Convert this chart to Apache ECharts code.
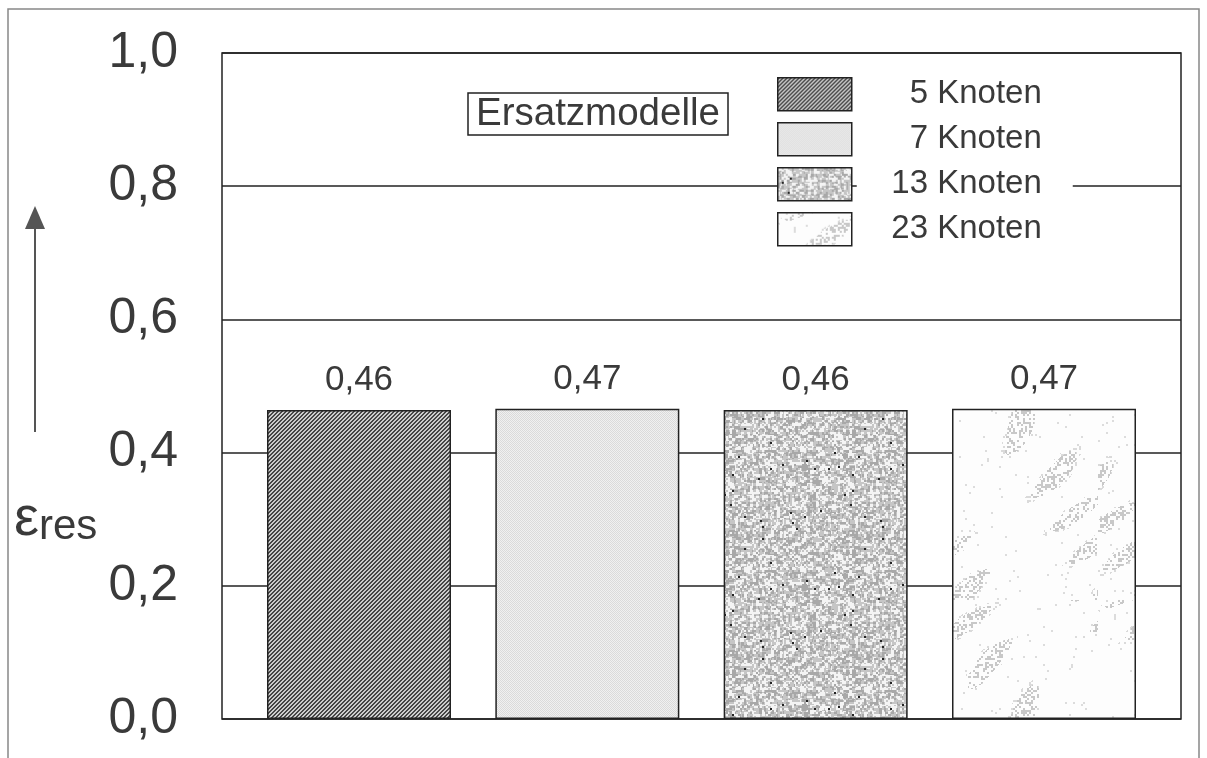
<!DOCTYPE html>
<html>
<head>
<meta charset="utf-8">
<script src="https://cdn.jsdelivr.net/npm/echarts@6/dist/echarts.min.js"></script>
<style>
html,body{margin:0;padding:0;background:#fff;}
#chart{width:1207px;height:758px;}
</style>
</head>
<body>
<div id="chart"></div>
<script>
// ---- data ----
const categories = ['5 Knoten', '7 Knoten', '13 Knoten', '23 Knoten'];
const positions = [1, 2, 3, 4];
const values = [0.464, 0.466, 0.464, 0.466];
const yTicks = [0, 0.2, 0.4, 0.6, 0.8, 1.0];
const boxTitle = 'Ersatzmodelle';
const axisName = ['ε', 'res'];

// ---- texture helpers (styling only, deterministic) ----
function hash(x, y, s) {
  let h = (x * 374761393 + y * 668265263 + s * 2147483647) | 0;
  h = (h ^ (h >>> 13)) * 1274126177 | 0;
  h = h ^ (h >>> 16);
  return ((h >>> 0) % 10000) / 10000;
}
function makeCanvas(w, h, fn) {
  const c = document.createElement('canvas');
  c.width = w; c.height = h;
  const ctx = c.getContext('2d');
  const img = ctx.createImageData(w, h);
  for (let y = 0; y < h; y++) for (let x = 0; x < w; x++) {
    const v = fn(x, y);
    const i = (y * w + x) * 4;
    img.data[i] = v; img.data[i + 1] = v; img.data[i + 2] = v; img.data[i + 3] = 255;
  }
  ctx.putImageData(img, 0, 0);
  return c;
}
const patHatch = makeCanvas(8, 8, (x, y) => ((x + y) % 4 < 2 ? 70 : 205));
const patDots = makeCanvas(8, 8, (x, y) => ((x + y) % 2 === 0 ? 218 : 240));
const patNoise = makeCanvas(120, 120, (x, y) => {
  const bx = Math.floor(x / 3), by = Math.floor(y / 3);
  const r = (hash(bx, by, 3) + hash(Math.floor(x / 2), Math.floor(y / 2), 4)) / 2;
  if (hash(x >> 1, y >> 1, 9) > 0.993) return 35;
  if (r < 0.36) return 168;
  if (r < 0.6) return 198;
  return 244;
});
const patSparse = makeCanvas(183, 300, (x, y) => {
  const band = Math.sin((x + y) / 11 + Math.sin(y / 37) * 2) +
               0.8 * Math.sin((x * 0.7 - y * 0.4) / 17);
  const r = hash(Math.floor(x / 2), Math.floor(y / 2), 5);
  if (band > 1.1 && r < 0.38) return 200;
  if (band > 0.8 && r < 0.12) return 218;
  if (r < 0.01) return 220;
  return 253;
});
const patterns = [patHatch, patDots, patNoise, patSparse];

const txt = '#3a3a3a';
const font = '"Liberation Sans", Arial, Helvetica, sans-serif';

const series = categories.map((name, i) => ({
  name: name,
  type: 'bar',
  barWidth: 184,
  barGap: '-100%',
  data: [[positions[i], values[i]]],
  itemStyle: {
    color: { image: patterns[i], repeat: 'repeat' },
    borderColor: '#222',
    borderWidth: 1.5
  },
  label: {
    show: true,
    position: 'top',
    distance: 12,
    fontFamily: font,
    fontSize: 35,
    color: txt,
    formatter: p => p.value[1].toFixed(2).replace('.', ',')
  },
  emphasis: { disabled: true },
  silent: true
}));

const chart = echarts.init(document.getElementById('chart'), null, { renderer: 'canvas' });
chart.setOption({
  animation: false,
  backgroundColor: '#fff',
  textStyle: { fontFamily: font },
  grid: {
    left: 222, right: 26, top: 53, bottom: 39,
    show: true, borderColor: '#222', borderWidth: 1.5, backgroundColor: 'transparent'
  },
  title: {
    text: boxTitle,
    left: 468, top: 93,
    padding: [2, 8, 2, 8],
    borderColor: '#222', borderWidth: 1.5,
    backgroundColor: '#fff',
    textStyle: { fontFamily: font, fontSize: 38.5, fontWeight: 'normal', color: txt, lineHeight: 38 }
  },
  legend: {
    orient: 'vertical',
    left: 777, top: 77,
    padding: 0,
    itemWidth: 74, itemHeight: 33, itemGap: 10.5,
    icon: 'rect',
    selectedMode: false,
    data: categories,
    itemStyle: { borderColor: '#222', borderWidth: 1.5 },
    formatter: n => '{a|' + n + '}',
    textStyle: {
      color: txt, fontFamily: font, fontSize: 33,
      rich: {
        a: { width: 180, align: 'right', fontSize: 33, lineHeight: 33, color: txt,
             fontFamily: font, backgroundColor: '#fff', padding: [0, 31, 0, 5] }
      }
    }
  },
  xAxis: {
    type: 'value', min: 0.4, max: 4.6,
    axisLine: { show: false }, axisTick: { show: false },
    axisLabel: { show: false }, splitLine: { show: false }
  },
  yAxis: {
    type: 'value', min: yTicks[0], max: yTicks[yTicks.length - 1], interval: 0.2,
    axisLine: { show: false }, axisTick: { show: false },
    axisLabel: {
      margin: 44, fontSize: 50, color: txt, fontFamily: font,
      formatter: v => v.toFixed(1).replace('.', ',')
    },
    splitLine: { show: true, lineStyle: { color: '#222', width: 1.5 } }
  },
  graphic: [
    { type: 'rect', silent: true, z: -10,
      shape: { x: 8, y: 9, width: 1191, height: 800 },
      style: { fill: null, stroke: '#888', lineWidth: 1.5 } },
    { type: 'line', silent: true,
      shape: { x1: 35, y1: 432, x2: 35, y2: 225 },
      style: { stroke: '#555', lineWidth: 2 } },
    { type: 'polygon', silent: true,
      shape: { points: [[25, 229], [45, 229], [35, 206]] },
      style: { fill: '#555' } },
    { type: 'text', silent: true, x: 14, y: 490,
      style: {
        text: '{e|' + axisName[0] + '}{s|' + axisName[1] + '}',
        rich: {
          e: { fontSize: 56, fontFamily: font, fill: txt, verticalAlign: 'bottom' },
          s: { fontSize: 42, fontFamily: font, fill: txt, padding: [16, 0, 0, 0] }
        }
      } }
  ],
  series: series
});
</script>
</body>
</html>
